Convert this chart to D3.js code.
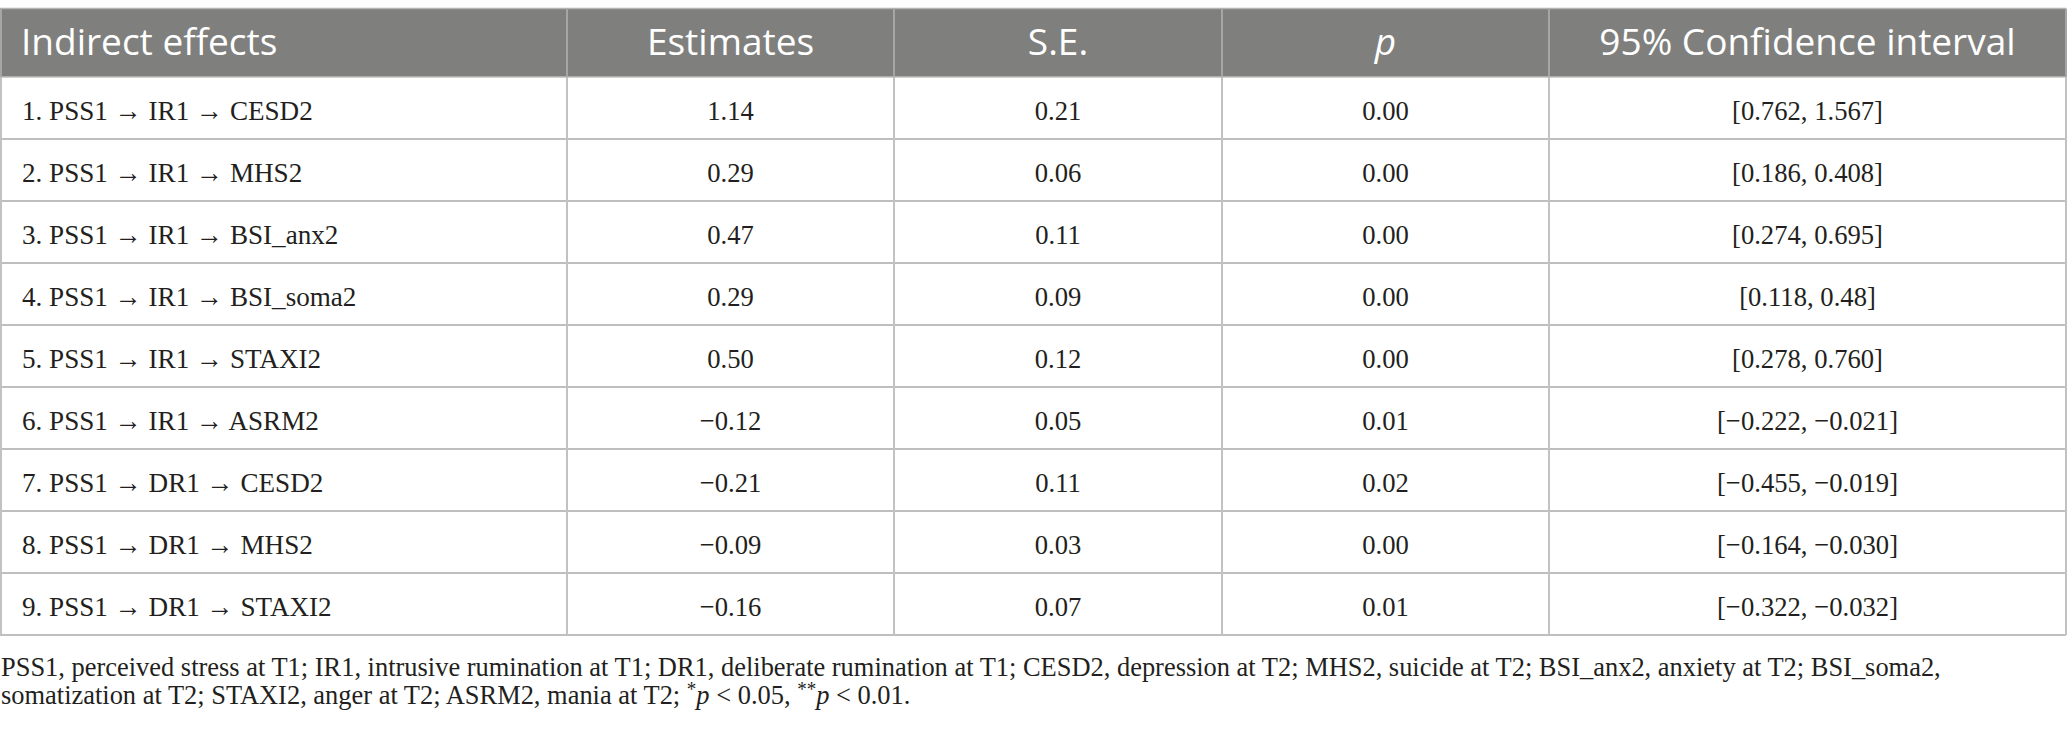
<!DOCTYPE html>
<html>
<head>
<meta charset="utf-8">
<script src="https://cdn.jsdelivr.net/npm/d3@7"></script>
<style>
  html, body { margin: 0; padding: 0; background: #ffffff; }
  svg { display: block; }
</style>
</head>
<body>
<svg id="chart" width="2067" height="732"></svg>
<script>
// ---- Data ----
const headers = ["Indirect effects", "Estimates", "S.E.", "p", "95% Confidence interval"];
const effects = [
  "1. PSS1 → IR1 → CESD2",
  "2. PSS1 → IR1 → MHS2",
  "3. PSS1 → IR1 → BSI_anx2",
  "4. PSS1 → IR1 → BSI_soma2",
  "5. PSS1 → IR1 → STAXI2",
  "6. PSS1 → IR1 → ASRM2",
  "7. PSS1 → DR1 → CESD2",
  "8. PSS1 → DR1 → MHS2",
  "9. PSS1 → DR1 → STAXI2"
];
const estimates = [1.14, 0.29, 0.47, 0.29, 0.50, -0.12, -0.21, -0.09, -0.16];
const stdErrors = [0.21, 0.06, 0.11, 0.09, 0.12, 0.05, 0.11, 0.03, 0.07];
const pValues   = [0.00, 0.00, 0.00, 0.00, 0.00, 0.01, 0.02, 0.00, 0.01];
const ciLower = ["0.762", "0.186", "0.274", "0.118", "0.278", "−0.222", "−0.455", "−0.164", "−0.322"];
const ciUpper = ["1.567", "0.408", "0.695", "0.48", "0.760", "−0.021", "−0.019", "−0.030", "−0.032"];
const footLine1 = "PSS1, perceived stress at T1; IR1, intrusive rumination at T1; DR1, deliberate rumination at T1; CESD2, depression at T2; MHS2, suicide at T2; BSI_anx2, anxiety at T2; BSI_soma2,";
const footLine2 = "somatization at T2; STAXI2, anger at T2; ASRM2, mania at T2; ";

// ---- Layout ----
const svg = d3.select("#chart");
const W = 2067;
const colEdges = [0, 567, 894, 1222, 1549, 2066];
const tableTop = 8.5, headerBottom = 77, tableBottom = 635;
const fmt = d3.format(".2f");

const rowScale = d3.scaleBand().domain(d3.range(effects.length)).range([headerBottom, tableBottom]);
const colScale = d3.scaleOrdinal().domain(d3.range(headers.length)).range(colEdges.slice(0, -1));
const colWidth = i => colEdges[i + 1] - colEdges[i];

const serif = "'Liberation Serif', 'Times New Roman', serif";
const sans = "'Open Sans', 'Noto Sans', sans-serif";
const bodySize = 28;
const ink = "#231f20";

// Header background
svg.append("rect").attr("x", 0).attr("y", tableTop).attr("width", W - 1).attr("height", headerBottom - tableTop)
  .attr("fill", "#7f807e");
svg.append("line").attr("x1", 0).attr("x2", W - 1).attr("y1", tableTop).attr("y2", tableTop)
  .attr("stroke", "#b4b4b4").attr("stroke-width", 1.5);

// Header texts
const hdr = svg.append("g");
headers.forEach((h, i) => {
  const t = hdr.append("text")
    .attr("x", i === 0 ? 21 : colScale(i) + colWidth(i) / 2)
    .attr("y", 55)
    .attr("text-anchor", i === 0 ? "start" : "middle")
    .attr("fill", "#ffffff")
    .attr("font-family", sans)
    .attr("font-size", 37)
    .text(h);
  if (h === "p") t.attr("font-style", "italic");
});

// Row lines
const grid = svg.append("g");
effects.forEach((e, r) => {
  const y = rowScale(r) + rowScale.bandwidth();
  grid.append("line").attr("x1", 0).attr("x2", W - 1).attr("y1", y).attr("y2", y)
    .attr("stroke", "#bfbfbf").attr("stroke-width", 2);
});
grid.append("line").attr("x1", 0).attr("x2", W - 1).attr("y1", headerBottom).attr("y2", headerBottom)
  .attr("stroke", "#bfbfbf").attr("stroke-width", 1.5);

// Vertical lines
colEdges.forEach((x, i) => {
  const xx = i === 0 ? 1 : x;
  grid.append("line").attr("x1", xx).attr("x2", xx).attr("y1", headerBottom).attr("y2", tableBottom)
    .attr("stroke", "#c2c2c2").attr("stroke-width", 2);
  grid.append("line").attr("x1", xx).attr("x2", xx).attr("y1", tableTop).attr("y2", headerBottom)
    .attr("stroke", "#a6a6a6").attr("stroke-width", 2);
});

// horizontal condensation factors (serif glyph widths follow the reference)
function measure(str) {
  const p = svg.append("text").attr("font-family", serif).attr("font-size", bodySize).text(str);
  const w = p.node().getComputedTextLength();
  p.remove();
  return w;
}
const sxNum = 151 / measure("[0.762, 1.567]");
const sxLabel = 291 / measure(effects[0]);

const body = svg.append("g");
effects.forEach((e, r) => {
  const cy = rowScale(r) + rowScale.bandwidth() / 2;
  body.append("g").attr("transform", `translate(22,${cy + 11.5}) scale(${sxLabel},1)`)
    .append("text")
    .attr("fill", ink).attr("font-family", serif).attr("font-size", bodySize)
    .text(e);
  const vals = [
    fmt(estimates[r]),
    fmt(stdErrors[r]),
    fmt(pValues[r]),
    "[" + ciLower[r] + ", " + ciUpper[r] + "]"
  ];
  vals.forEach((v, k) => {
    const c = k + 1;
    const x = colScale(c) + colWidth(c) / 2;
    body.append("g").attr("transform", `translate(${x},${cy + 11.5}) scale(${sxNum},1)`)
      .append("text")
      .attr("text-anchor", "middle")
      .attr("fill", ink)
      .attr("font-family", serif)
      .attr("font-size", bodySize)
      .text(v);
  });
});

// Footnote
const fg1 = svg.append("g");
const f1 = fg1.append("text").attr("font-family", serif).attr("font-size", bodySize).attr("fill", ink).text(footLine1);
const fsx = 1941 / f1.node().getComputedTextLength();
fg1.attr("transform", `translate(1,676) scale(${fsx},1)`);

const fg2 = svg.append("g").attr("transform", `translate(1,704) scale(${fsx},1)`);
const f2 = fg2.append("text").attr("font-family", serif).attr("font-size", bodySize).attr("fill", ink);
f2.append("tspan").text(footLine2);
f2.append("tspan").attr("font-size", bodySize * 0.72).attr("dy", -8).text("*");
f2.append("tspan").attr("font-style", "italic").attr("dy", 8).text("p");
f2.append("tspan").text(" < 0.05, ");
f2.append("tspan").attr("font-size", bodySize * 0.72).attr("dy", -8).text("**");
f2.append("tspan").attr("font-style", "italic").attr("dy", 8).text("p");
f2.append("tspan").text(" < 0.01.");
</script>
</body>
</html>
